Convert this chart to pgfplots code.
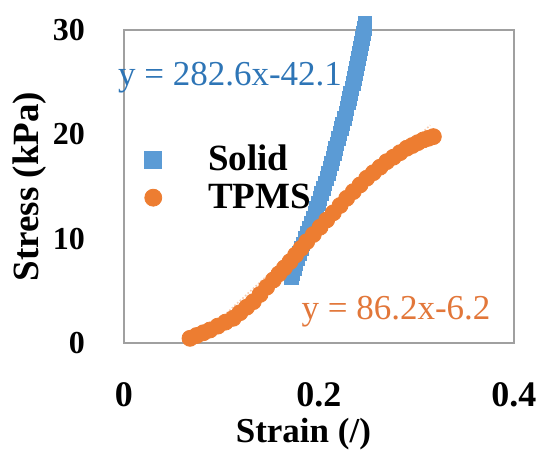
\documentclass[border=0pt]{standalone}
\usepackage{fontspec}
\setmainfont{Liberation Serif}
\usepackage{pgfplots}
\pgfplotsset{compat=1.18}
\definecolor{sblue}{HTML}{5B9BD5}
\definecolor{sorange}{HTML}{ED7D31}
\definecolor{eqblue}{HTML}{2E75B6}
\definecolor{eqorange}{HTML}{E2773A}
\definecolor{framegray}{HTML}{A0A0A0}
\newcommand{\bigfont}{\fontsize{17.5bp}{20bp}\selectfont}
\begin{document}
\begin{tikzpicture}
\begin{axis}[
  scale only axis, width=195bp, height=156.5bp,
  xmin=0, xmax=0.4, ymin=0, ymax=30,
  xtick={0,0.2,0.4}, xticklabels={0,0.2,0.4},
  ytick={0,10,20,30}, yticklabels={0,10,20,30},
  major tick length=0pt,
  axis line style={draw=framegray, line width=0.7bp},
  xticklabel style={font=\fontsize{18bp}{20bp}\selectfont\bfseries, inner sep=0pt, yshift=-19.5bp},
  yticklabel style={font=\fontsize{16bp}{18bp}\selectfont\bfseries, xshift=-16bp},
  xlabel={Strain (/)}, ylabel={Stress (kPa)},
  every axis x label/.style={at={(axis description cs:0.46,-0.29)}, anchor=center, inner sep=0pt, font=\fontsize{17.5bp}{20bp}\selectfont\bfseries},
  every axis y label/.style={at={(axis description cs:-0.241,0.5)}, anchor=center, rotate=90, font=\fontsize{18.5bp}{20bp}\selectfont\bfseries},
  clip=false,
  legend style={at={(axis description cs:0.033,0.526)}, anchor=west, draw=none, fill=none, inner sep=0pt,
    font=\fontsize{18.5bp}{20bp}\selectfont\bfseries, row sep=3bp, nodes={inner sep=1bp}},
  legend cell align=left,
  legend image code/.code={\path[draw=none, fill=none] (-8bp,-5bp) rectangle (26.5bp,5bp); \draw[#1, only marks] plot coordinates {(0bp,0bp)};},
  legend image post style={mark size=4.25bp},
]
\addplot[only marks, mark=square*, mark size=3.4bp, color=sblue, mark options={draw=sblue, fill=sblue}] coordinates {
(0.1716,6.30) (0.1723,6.49) (0.1730,6.68) (0.1747,7.14) (0.1763,7.60) (0.1781,8.10) (0.1798,8.60)
(0.1817,9.05) (0.1836,9.50) (0.1858,10.01) (0.1880,10.52) (0.1900,11.01) (0.1920,11.50) (0.1940,11.97)
(0.1959,12.44) (0.1976,12.92) (0.1993,13.40) (0.2010,13.88) (0.2027,14.35) (0.2044,14.83) (0.2061,15.30)
(0.2079,15.79) (0.2096,16.27) (0.2111,16.74) (0.2126,17.20) (0.2142,17.70) (0.2157,18.19) (0.2171,18.65)
(0.2185,19.10) (0.2200,19.60) (0.2215,20.10) (0.2229,20.55) (0.2243,21.00) (0.2259,21.51) (0.2274,22.02)
(0.2287,22.51) (0.2300,23.00) (0.2313,23.47) (0.2325,23.94) (0.2338,24.42) (0.2351,24.90) (0.2364,25.38)
(0.2376,25.86) (0.2386,26.33) (0.2395,26.80) (0.2405,27.29) (0.2414,27.78) (0.2424,28.24) (0.2434,28.70)
(0.2445,29.20) (0.2455,29.69) (0.2464,30.17) (0.2472,30.65)
};
\addlegendentry{Solid}
\addplot[only marks, mark=*, mark size=4bp, color=sorange, mark options={draw=sorange, fill=sorange}] coordinates {
(0.0677,0.45) (0.0745,0.72) (0.0814,0.98) (0.0882,1.25) (0.0962,1.62) (0.1041,2.00)
(0.1121,2.37) (0.1189,2.90) (0.1258,3.43) (0.1326,3.96) (0.1395,4.65) (0.1463,5.35)
(0.1532,6.04) (0.1589,6.63) (0.1646,7.21) (0.1703,7.80) (0.1760,8.44) (0.1817,9.07)
(0.1874,9.71) (0.1942,10.40) (0.2011,11.10) (0.2079,11.79) (0.2147,12.48) (0.2216,13.18)
(0.2284,13.87) (0.2352,14.51) (0.2421,15.15) (0.2489,15.79) (0.2557,16.32) (0.2626,16.85)
(0.2694,17.38) (0.2763,17.81) (0.2831,18.24) (0.2900,18.67) (0.2957,18.93) (0.3013,19.20)
(0.3070,19.46) (0.3122,19.62) (0.3173,19.78)
};
\addlegendentry{TPMS}
\addplot[forget plot, densely dotted, line width=0.8bp, color=white!55!sblue] coordinates {(0.170,5.94) (0.247,27.70)};
\addplot[forget plot, densely dotted, line width=0.8bp, color=white!60!sorange] coordinates {(0.0700,-0.17) (0.3140,20.87)};
\node[text=eqblue, font=\bigfont, inner sep=0pt] at (axis cs:0.1087,25.4) {y = 282.6x-42.1};
\node[text=eqorange, font=\bigfont, inner sep=0pt] at (axis cs:0.279,2.97) {y = 86.2x-6.2};
\coordinate (bl) at (rel axis cs:0,0);
\coordinate (tr) at (rel axis cs:1,1);
\end{axis}
\pgfresetboundingbox
\path[use as bounding box] ([shift={(-62bp,-59bp)}]bl) rectangle ([shift={(18bp,15bp)}]tr);
\end{tikzpicture}
\end{document}
